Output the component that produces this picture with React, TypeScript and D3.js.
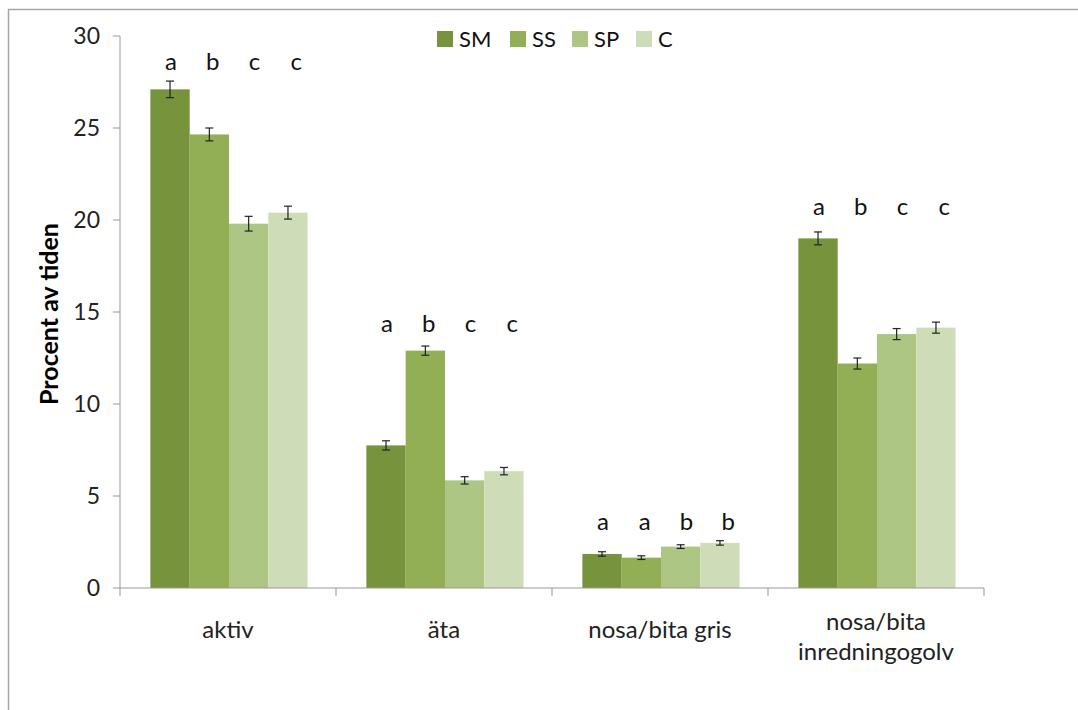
import React from "react";
import * as d3 from "d3";

const categories = ["aktiv", "äta", "nosa/bita gris", "nosa/bita inredningogolv"];
const categoryLines = [["aktiv"], ["äta"], ["nosa/bita gris"], ["nosa/bita", "inredningogolv"]];
const seriesNames = ["SM", "SS", "SP", "C"];
const seriesColors = ["#77933C", "#92AF55", "#ADC684", "#CEDCB8"];
const valuesSM = [27.1, 7.75, 1.85, 19.0];
const valuesSS = [24.65, 12.9, 1.65, 12.2];
const valuesSP = [19.8, 5.85, 2.25, 13.8];
const valuesC = [20.4, 6.35, 2.45, 14.15];
const errSM = [0.45, 0.25, 0.12, 0.35];
const errSS = [0.35, 0.25, 0.1, 0.3];
const errSP = [0.4, 0.2, 0.1, 0.3];
const errC = [0.35, 0.2, 0.12, 0.3];
const letters = [
  ["a", "b", "c", "c"],
  ["a", "b", "c", "c"],
  ["a", "a", "b", "b"],
  ["a", "b", "c", "c"],
];
const letterLevel = [28.6, 14.35, 3.6, 20.75];
const yTicks = [0, 5, 10, 15, 20, 25, 30];

const W = 1078, H = 710;
const left = 120, right = 984, top = 36, bottom = 588;
const font = "Lato, 'Open Sans', sans-serif";

export default function App() {
  const values = [valuesSM, valuesSS, valuesSP, valuesC];
  const errs = [errSM, errSS, errSP, errC];
  const y = d3.scaleLinear().domain([0, 30]).range([bottom, top]);
  const x0 = d3.scaleBand().domain(categories).range([left, right]).paddingInner(0).paddingOuter(0);
  const bw = x0.bandwidth();
  const groupW = bw * 0.728;
  const x1 = d3.scaleBand().domain(seriesNames).range([0, groupW]).padding(0);
  const groupOff = (bw - groupW) / 2 + 1;

  const legendX = [437, 510, 572, 636];

  return (
    <svg width={W} height={H} style={{ position: "absolute", left: 0, top: 0 }}>
      <rect x={0} y={0} width={W} height={H} fill="#fff" />
      <path d={`M8.5,${H} V9.5 H${W}`} fill="none" stroke="#a6a6a6" strokeWidth={1.5} />
      {/* y axis */}
      <line x1={left} x2={left} y1={top} y2={bottom} stroke="#999" />
      {yTicks.map((t) => (
        <g key={t}>
          <line x1={left - 7} x2={left} y1={y(t)} y2={y(t)} stroke="#999" />
          <text x={100} y={y(t)} dy="0.35em" textAnchor="end" fontFamily={font} fontSize={23} fill="#222">
            {t}
          </text>
        </g>
      ))}
      <text
        transform={`translate(58,${(top + bottom) / 2 + 2}) rotate(-90)`}
        textAnchor="middle"
        fontFamily={font}
        fontWeight="bold"
        fontSize={25}
        fill="#000"
      >
        Procent av tiden
      </text>
      {/* bars */}
      {categories.map((c, ci) => (
        <g key={c} transform={`translate(${x0(c)! + groupOff},0)`}>
          {seriesNames.map((s, si) => {
            const v = values[si][ci];
            const e = errs[si][ci];
            const bx = x1(s)!;
            const cx = bx + x1.bandwidth() / 2;
            return (
              <g key={s}>
                <rect x={bx} y={y(v)} width={x1.bandwidth()} height={y(0) - y(v)} fill={seriesColors[si]} />
                <line x1={cx} x2={cx} y1={y(v + e)} y2={y(v - e)} stroke="#222" strokeWidth={1.2} />
                <line x1={cx - 4} x2={cx + 4} y1={y(v + e)} y2={y(v + e)} stroke="#222" strokeWidth={1.2} />
                <line x1={cx - 4} x2={cx + 4} y1={y(v - e)} y2={y(v - e)} stroke="#222" strokeWidth={1.2} />
                <text x={cx + 1 + si * 2.4} y={y(letterLevel[ci])} dy="0.35em" textAnchor="middle" fontFamily={font} fontSize={24} fill="#111">
                  {letters[ci][si]}
                </text>
              </g>
            );
          })}
        </g>
      ))}
      {/* x axis */}
      <line x1={left} x2={right} y1={bottom} y2={bottom} stroke="#999" />
      {[...categories.map((c) => x0(c)!), right].map((xv, i) => (
        <line key={i} x1={xv} x2={xv} y1={bottom} y2={bottom + 8} stroke="#999" />
      ))}
      {categories.map((c, ci) => {
        const lines = categoryLines[ci];
        const cx = x0(c)! + bw / 2;
        return (
          <text key={c} textAnchor="middle" fontFamily={font} fontSize={24} fill="#222">
            {lines.map((l, li) => (
              <tspan key={li} x={cx} y={lines.length === 1 ? 638 : 630 + li * 30}>
                {l}
              </tspan>
            ))}
          </text>
        );
      })}
      {/* legend */}
      {seriesNames.map((s, si) => (
        <g key={s}>
          <rect x={legendX[si]} y={31} width={16} height={16} fill={seriesColors[si]} />
          <text x={legendX[si] + 22} y={39} dy="0.36em" fontFamily={font} fontSize={22} fill="#111">
            {s}
          </text>
        </g>
      ))}
    </svg>
  );
}
